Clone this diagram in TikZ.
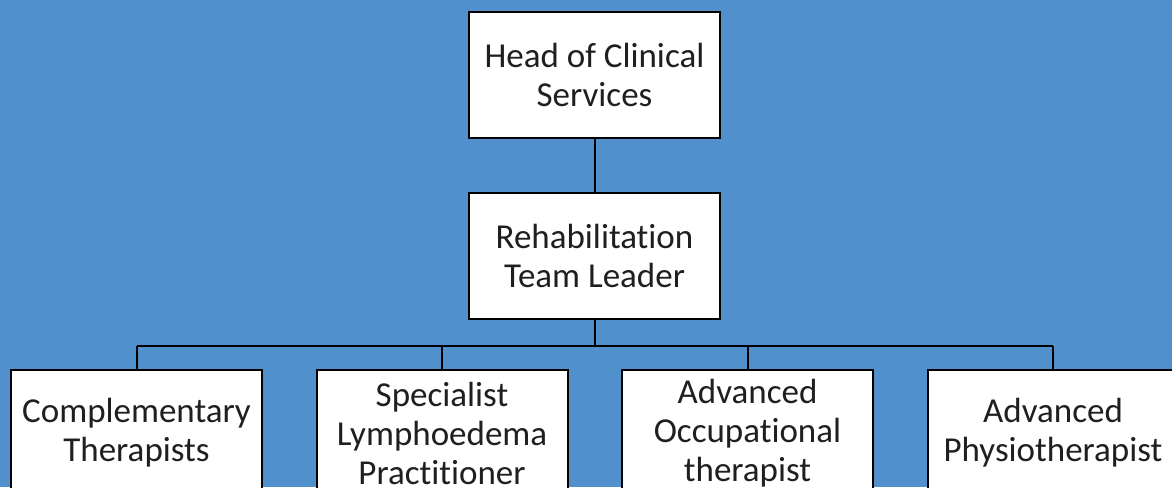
\documentclass[tikz,border=0pt]{standalone}
\usepackage{fontspec}
\setmainfont{Carlito}[Ligatures=NoCommon]
\usetikzlibrary{positioning}
\definecolor{bgblue}{RGB}{80,144,204}

\begin{document}
\begin{tikzpicture}[x=1pt, y=-1pt, align=center,
        role/.style={draw=black, line width=2pt, fill=white, minimum width=251pt,
                     minimum height=126pt, inner sep=0pt, text=black!88,
                     font=\fontsize{35}{39}\selectfont},
        link/.style={draw=black, line width=2pt}]
        \fill[bgblue] (0,0) rectangle (1172,487);
        \useasboundingbox (0,0) rectangle (1172,487);
        % top of the chart
        \node[role] (head) at (594.5,75) {Head of Clinical\\Services};
        \node[role, below=53pt of head] (lead) {Rehabilitation\\Team Leader};
        % the four roles under the team leader
        \node[role] (comp) at (136.5,433) {Complementary\\Therapists};
        \node[role, right=52.5pt of comp] (lymph) {Specialist\\Lymphoedema\\Practitioner};
        \node[role, right=52.5pt of lymph] (occ) {Advanced\\Occupational\\therapist};
        \node[role, right=52.5pt of occ] (phys) {Advanced\\Physiotherapist};
        \draw[link] (head) -- (lead);
        \draw[link] (lead.south) -- ++(0,26) coordinate (bus);
        \draw[link] (bus -| comp.north) -- (bus -| phys.north);
        \foreach \n in {comp,lymph,occ,phys}
          \draw[link] (\n.north) -- (bus -| \n.north);
\end{tikzpicture}
\end{document}
